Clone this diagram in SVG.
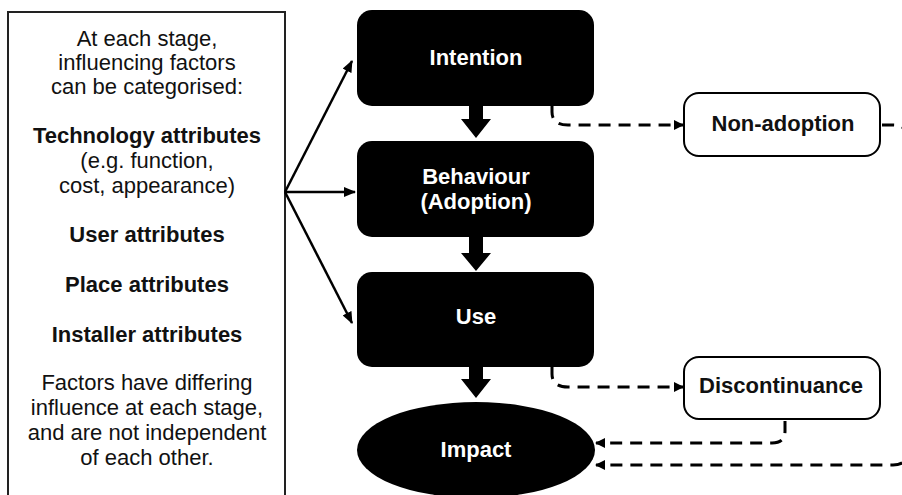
<svg xmlns="http://www.w3.org/2000/svg" width="902" height="495" viewBox="0 0 902 495">
<defs>
<style>
.lt{font-family:"Liberation Sans",Arial,sans-serif;font-size:22px;fill:#111;text-anchor:middle}
.b{font-weight:bold}
.nt{font-family:"Liberation Sans",Arial,sans-serif;font-size:22px;font-weight:bold;fill:#fff;text-anchor:middle}
.ot{font-family:"Liberation Sans",Arial,sans-serif;font-size:22px;font-weight:bold;fill:#111;text-anchor:middle}
.stage{fill:#000}
.out{fill:#fff;stroke:#000;stroke-width:2}
.fan{stroke:#000;stroke-width:2.5;fill:none}
.dash{stroke:#000;stroke-width:3;fill:none;stroke-dasharray:12 8}
</style>
<marker id="ah" viewBox="0 0 12 10" refX="11" refY="5" markerWidth="12" markerHeight="10" markerUnits="userSpaceOnUse" orient="auto">
<path d="M0,0 L12,5 L0,10 Z" fill="#000"/>
</marker>
<marker id="dh" viewBox="0 0 10 10" refX="9" refY="5" markerWidth="10" markerHeight="10" markerUnits="userSpaceOnUse" orient="auto">
<path d="M0,0 L10,5 L0,10 Z" fill="#000"/>
</marker>
</defs>
<rect width="902" height="495" fill="#fff"/>

<g id="factors">
<rect x="8" y="12" width="277" height="500" fill="#fff" stroke="#222" stroke-width="2"/>
<text class="lt" x="147" y="46">At each stage,</text>
<text class="lt" x="147" y="70">influencing factors</text>
<text class="lt" x="147" y="94">can be categorised:</text>
<text class="lt b" x="147" y="143">Technology attributes</text>
<text class="lt" x="147" y="168">(e.g. function,</text>
<text class="lt" x="147" y="193">cost, appearance)</text>
<text class="lt b" x="147" y="242">User attributes</text>
<text class="lt b" x="147" y="292">Place attributes</text>
<text class="lt b" x="147" y="342">Installer attributes</text>
<text class="lt" x="147" y="390">Factors have differing</text>
<text class="lt" x="147" y="415">influence at each stage,</text>
<text class="lt" x="147" y="440">and are not independent</text>
<text class="lt" x="147" y="465">of each other.</text>
</g>

<g id="intention">
<rect class="stage" x="357" y="10" width="237" height="96" rx="15"/>
<text class="nt" x="476" y="65">Intention</text>
</g>
<g id="behaviour">
<rect class="stage" x="357" y="141" width="237" height="96" rx="15"/>
<text class="nt" x="476" y="184">Behaviour</text>
<text class="nt" x="476" y="209">(Adoption)</text>
</g>
<g id="use">
<rect class="stage" x="357" y="272" width="237" height="95" rx="15"/>
<text class="nt" x="476" y="324">Use</text>
</g>
<g id="impact">
<ellipse class="stage" cx="476" cy="450" rx="119" ry="48"/>
<text class="nt" x="476" y="457">Impact</text>
</g>
<g id="non-adoption">
<rect class="out" x="684" y="93" width="196" height="63" rx="15"/>
<text class="ot" x="783" y="131">Non-adoption</text>
</g>
<g id="discontinuance">
<rect class="out" x="684" y="357" width="196" height="62" rx="15"/>
<text class="ot" x="781" y="393">Discontinuance</text>
</g>

<g id="connectors">
<line class="fan" x1="285" y1="192" x2="352" y2="61" marker-end="url(#ah)"/>
<line class="fan" x1="285" y1="192" x2="355" y2="192" marker-end="url(#ah)"/>
<line class="fan" x1="285" y1="192" x2="352" y2="323" marker-end="url(#ah)"/>
<polygon points="469,106 483,106 483,119 491,119 476,138 461,119 469,119" fill="#000"/>
<polygon points="469,237 483,237 483,253 491,253 476,271 461,253 469,253" fill="#000"/>
<polygon points="469,367 483,367 483,379 491,379 476,398 461,379 469,379" fill="#000"/>
<path class="dash" d="M552,106 V112 Q552,125 568,125 H683" marker-end="url(#dh)"/>
<path class="dash" d="M552,367 V374 Q552,387 568,387 H683" marker-end="url(#dh)"/>
<path class="dash" d="M785,421 V431 Q785,443 772,443 H596" marker-end="url(#dh)"/>
<path class="dash" d="M882,125 H893 Q908,125 908,140 V450 Q908,465 893,465 H596" marker-end="url(#dh)"/>
</g>
</svg>
